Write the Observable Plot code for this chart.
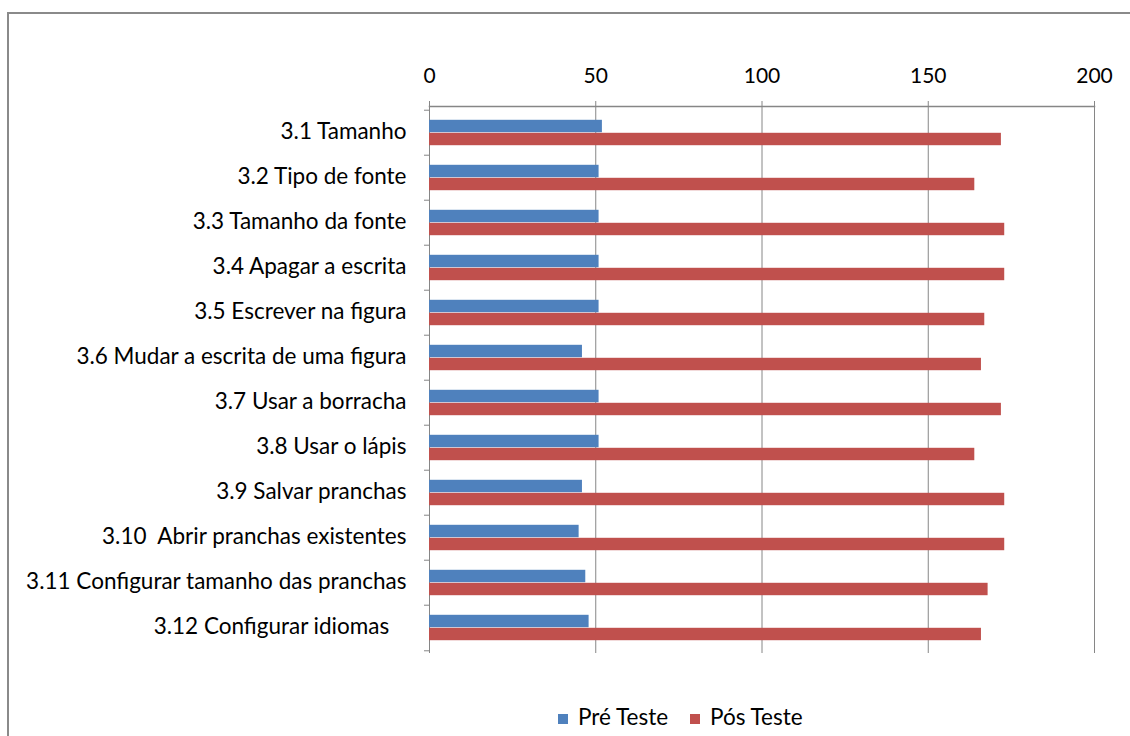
<!DOCTYPE html>
<html>
<head>
<meta charset="utf-8">
<script src="https://cdn.jsdelivr.net/npm/d3@7"></script>
<script src="https://cdn.jsdelivr.net/npm/@observablehq/plot@0.6"></script>
<style>
  html, body { margin: 0; padding: 0; background: #fff; width: 1130px; height: 736px; overflow: hidden; }
  #frame { position: absolute; left: 7px; top: 12px; width: 1140px; height: 740px; border: 2px solid #8a8a8a; box-sizing: border-box; }
  #chart { position: absolute; left: 0; top: 0; }
  #chart svg text { white-space: pre; }
  #legend { position: absolute; top: 703px; left: 558px; white-space: nowrap; font-family: Lato, "Open Sans", sans-serif; font-size: 22.5px; color: #000; }
  #legend span.sw { display: inline-block; width: 10px; height: 10px; margin-right: 10px; vertical-align: 1px; }
  #legend span.item { margin-right: 22px; }
</style>
</head>
<body>
<div id="frame"></div>
<div id="chart"></div>
<div id="legend"></div>
<script>
const categories = [
  "3.1 Tamanho",
  "3.2 Tipo de fonte",
  "3.3 Tamanho da fonte",
  "3.4 Apagar a escrita",
  "3.5 Escrever na figura",
  "3.6 Mudar a escrita de uma figura",
  "3.7 Usar a borracha",
  "3.8 Usar o lápis",
  "3.9 Salvar pranchas",
  "3.10  Abrir pranchas existentes",
  "3.11 Configurar tamanho das pranchas",
  "3.12 Configurar idiomas   "
];
const preTeste = [52, 51, 51, 51, 51, 46, 51, 51, 46, 45, 47, 48];
const posTeste = [172, 164, 173, 173, 167, 166, 172, 164, 173, 173, 168, 166];
const seriesNames = ["Pré Teste", "Pós Teste"];
const seriesColors = ["#4F81BD", "#C0504D"];
const xTicks = [0, 50, 100, 150, 200];

const pre = categories.map((c, i) => ({category: c, value: preTeste[i], series: seriesNames[0]}));
const pos = categories.map((c, i) => ({category: c, value: posTeste[i], series: seriesNames[1]}));

const marginTop = 106, height = 690, marginBottom = height - 653;
const band = (653 - marginTop) / categories.length;
const pairGap = (band - 26) / 2;

const chart = Plot.plot({
  width: 1130,
  height,
  marginLeft: 429,
  marginRight: 36,
  marginTop,
  marginBottom,
  style: {fontFamily: "Lato, 'Open Sans', sans-serif", fontSize: "20px", color: "#000", background: "transparent"},
  x: {domain: [0, 200], axis: null},
  y: {domain: categories, padding: 0, axis: null},
  color: {domain: seriesNames, range: seriesColors},
  marks: [
    Plot.ruleX(xTicks, {stroke: "#868686", strokeWidth: 1, strokeOpacity: 1}),
    Plot.frame({anchor: "top", stroke: "#868686", strokeWidth: 1.5}),
    Plot.axisX(xTicks, {anchor: "top", tickSize: 6, tickPadding: 18, stroke: "#868686", label: null, fontSize: 21}),
    Plot.barX(pre, {x: "value", y: "category", fill: "series", insetTop: pairGap, insetBottom: band / 2}),
    Plot.barX(pos, {x: "value", y: "category", fill: "series", insetTop: band / 2, insetBottom: pairGap}),
    Plot.axisY({anchor: "left", tickSize: 0, tickPadding: 23, dy: -1.5, label: null, fontSize: 22.5}),
    Plot.axisY({anchor: "left", tickSize: 5, dy: -band / 2, tickFormat: () => "", stroke: "#868686", label: null}),
    Plot.axisY([categories[categories.length - 1]], {anchor: "left", tickSize: 5, dy: band / 2, tickFormat: () => "", stroke: "#868686", label: null})
  ]
});
document.getElementById("chart").appendChild(chart);

const legend = document.getElementById("legend");
seriesNames.forEach((name, i) => {
  const item = document.createElement("span");
  item.className = "item";
  const sw = document.createElement("span");
  sw.className = "sw";
  sw.style.background = seriesColors[i];
  item.appendChild(sw);
  item.appendChild(document.createTextNode(name));
  legend.appendChild(item);
});
</script>
</body>
</html>
